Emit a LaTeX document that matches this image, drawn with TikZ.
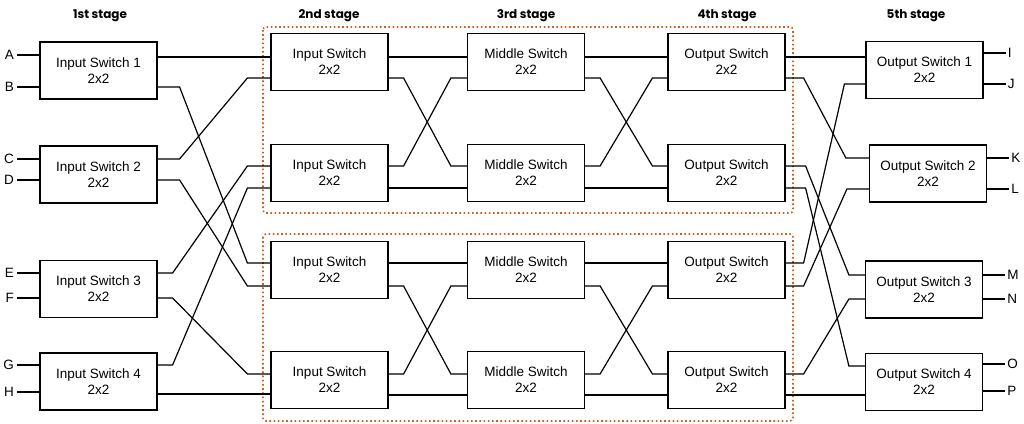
\documentclass[tikz,border=0pt]{standalone}
\usepackage{fontspec}
\setmainfont{Liberation Sans}
\newfontfamily\stagefont{Poppins}
\usetikzlibrary{calc}
\definecolor{dotorange}{RGB}{205,95,30}
\newcommand\xwire[4]{\draw[wire] #1 -- ++(#3,0) -- ($#2+(-#4,0)$) -- #2;}
\newcommand\swire[2]{\draw[wire] #1 -- #2;}
\begin{document}
\begin{tikzpicture}[x=1pt,y=-1pt,
  sw/.style={draw,line width=1.2pt,minimum width=117pt,minimum height=57pt,inner sep=0pt,align=center,font=\fontsize{13.5}{16}\selectfont},
  wire/.style={line width=1.2pt},
  lbl/.style={font=\fontsize{13.5}{16}\selectfont,inner sep=0pt},
  stg/.style={font=\stagefont\bfseries\fontsize{12}{14}\selectfont},
  grp/.style={draw=dotorange,line width=1.6pt,dash pattern=on 1.6pt off 2.6pt,rounded corners=3pt}]
\useasboundingbox (0,0) rectangle (1024,423);

% stage labels
\node[stg] (s1) at (100,15.5) {1st stage};
\node[stg] (s2) at (329,15.5) {2nd stage};
\node[stg] (s3) at (526,15.5) {3rd stage};
\node[stg] (s4) at (727,15.5) {4th stage};
\node[stg] (s5) at (916,15.5) {5th stage};

% groups
\draw[grp] (263,27) rectangle (793,213);
\draw[grp] (263,234) rectangle (793,421);

% stage 1
\node[sw] (is1) at (98.5,70.5) {Input Switch 1\\2x2};
\node[sw] (is2) at (98.5,174.5) {Input Switch 2\\2x2};
\node[sw] (is3) at (98.5,289) {Input Switch 3\\2x2};
\node[sw] (is4) at (98.5,381.5) {Input Switch 4\\2x2};
% stage 2
\node[sw] (a1) at (329.5,62) {Input Switch\\2x2};
\node[sw] (a2) at (329.5,173) {Input Switch\\2x2};
\node[sw] (a3) at (329.5,270) {Input Switch\\2x2};
\node[sw] (a4) at (329.5,380) {Input Switch\\2x2};
% stage 3
\node[sw] (m1) at (526,62) {Middle Switch\\2x2};
\node[sw] (m2) at (526,173) {Middle Switch\\2x2};
\node[sw] (m3) at (526,270) {Middle Switch\\2x2};
\node[sw] (m4) at (526,380) {Middle Switch\\2x2};
% stage 4
\node[sw] (o1) at (726.5,62) {Output Switch\\2x2};
\node[sw] (o2) at (726.5,173) {Output Switch\\2x2};
\node[sw] (o3) at (726.5,270) {Output Switch\\2x2};
\node[sw] (o4) at (726.5,380) {Output Switch\\2x2};
% stage 5
\node[sw] (os1) at (924.5,70) {Output Switch 1\\2x2};
\node[sw] (os2) at (928,173.5) {Output Switch 2\\2x2};
\node[sw] (os3) at (924,289.5) {Output Switch 3\\2x2};
\node[sw] (os4) at (924,382) {Output Switch 4\\2x2};

% input labels
\foreach \n/\s/\y in {A/is1/55,B/is1/87,C/is2/159,D/is2/180,E/is3/273,F/is3/298,G/is4/365,H/is4/392}{
  \node[lbl,anchor=east] (\n) at (14,\y) {\n};
  \draw[wire] ([xshift=3pt]\n.east) -- (\s.west |- \n.east);
}
% output labels
\foreach \n/\s/\y in {I/os1/53,J/os1/84,K/os2/158,L/os2/189,M/os3/275,N/os3/299,O/os4/364,P/os4/391}{
  \draw[wire] (\s.east |- 0,\y) -- ++(22,0) coordinate (e\n);
  \node[lbl,anchor=west] (\n) at ([xshift=2pt]e\n) {\n};
}

% stage 1 -> 2
\swire{(is1.east |- 0,57)}{(a1.west |- 0,57)}
\xwire{(is1.east |- 0,87)}{(a3.west |- 0,263)}{22}{23}
\xwire{(is2.east |- 0,159)}{(a1.west |- 0,78)}{22}{23}
\xwire{(is2.east |- 0,180)}{(a3.west |- 0,286)}{22}{23}
\xwire{(is3.east |- 0,273)}{(a2.west |- 0,166)}{15}{23}
\xwire{(is3.east |- 0,298)}{(a4.west |- 0,374)}{15}{23}
\xwire{(is4.east |- 0,365)}{(a2.west |- 0,188)}{15}{23}
\swire{(is4.east |- 0,394)}{(a4.west |- 0,394)}

% stage 2 -> 3
\swire{(a1.east |- 0,57)}{(m1.west |- 0,57)}
\xwire{(a1.east |- 0,78)}{(m2.west |- 0,166)}{15}{16}
\xwire{(a2.east |- 0,166)}{(m1.west |- 0,78)}{15}{16}
\swire{(a2.east |- 0,188)}{(m2.west |- 0,188)}
\swire{(a3.east |- 0,263)}{(m3.west |- 0,263)}
\xwire{(a3.east |- 0,286)}{(m4.west |- 0,374)}{15}{16}
\xwire{(a4.east |- 0,374)}{(m3.west |- 0,286)}{15}{16}
\swire{(a4.east |- 0,395)}{(m4.west |- 0,395)}

% stage 3 -> 4
\swire{(m1.east |- 0,57)}{(o1.west |- 0,57)}
\xwire{(m1.east |- 0,78)}{(o2.west |- 0,166)}{15}{15}
\xwire{(m2.east |- 0,166)}{(o1.west |- 0,78)}{15}{15}
\swire{(m2.east |- 0,188)}{(o2.west |- 0,188)}
\swire{(m3.east |- 0,263)}{(o3.west |- 0,263)}
\xwire{(m3.east |- 0,286)}{(o4.west |- 0,374)}{15}{15}
\xwire{(m4.east |- 0,374)}{(o3.west |- 0,286)}{15}{15}
\swire{(m4.east |- 0,395)}{(o4.west |- 0,395)}

% stage 4 -> 5
\swire{(o1.east |- 0,57)}{(os1.west |- 0,57)}
\xwire{(o1.east |- 0,78)}{(os2.west |- 0,158)}{18}{23}
\xwire{(o2.east |- 0,166)}{(os3.west |- 0,275)}{20}{16}
\xwire{(o2.east |- 0,188)}{(os4.west |- 0,366)}{20}{16}
\xwire{(o3.east |- 0,263)}{(os1.west |- 0,84)}{18}{21}
\xwire{(o3.east |- 0,286)}{(os2.west |- 0,189)}{18}{22}
\xwire{(o4.east |- 0,374)}{(os3.west |- 0,299)}{18}{16}
\swire{(o4.east |- 0,395)}{(os4.west |- 0,395)}
\end{tikzpicture}
\end{document}
